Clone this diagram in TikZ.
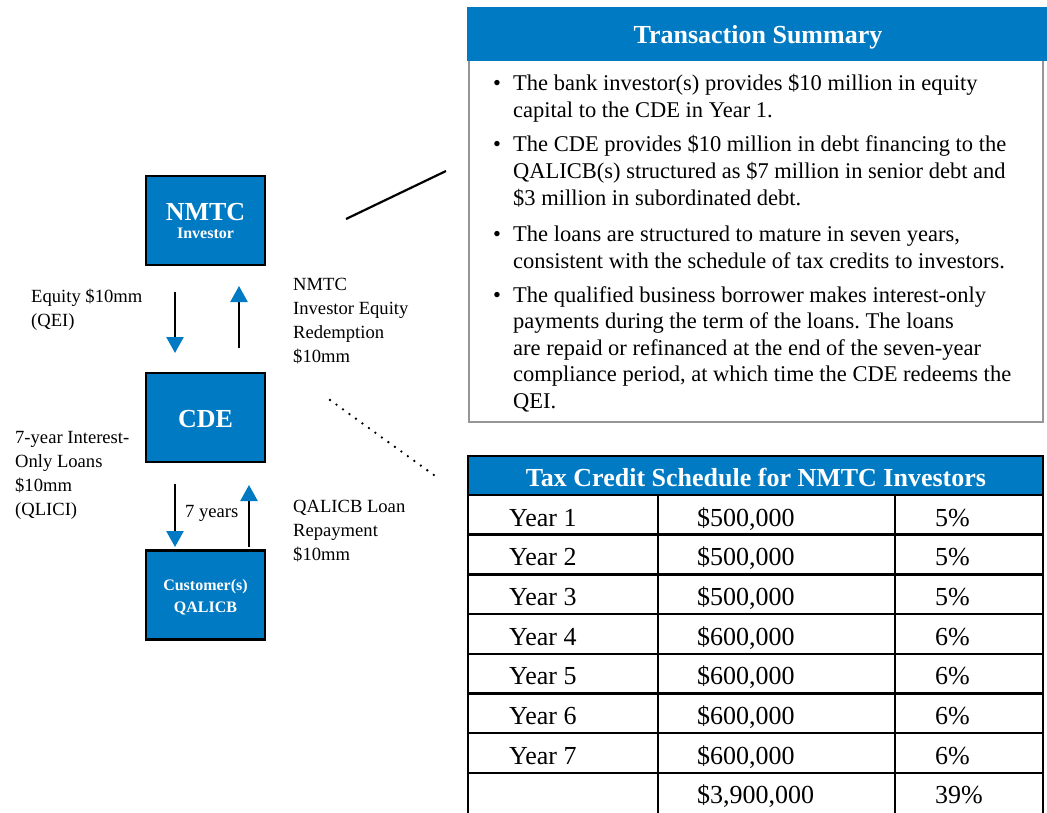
\documentclass[tikz,border=0pt]{standalone}
\usepackage{fontspec}
\setmainfont{Liberation Serif}
\usepackage{xcolor}
\usetikzlibrary{arrows.meta,calc,positioning}
\frenchspacing
\definecolor{nmtcblue}{RGB}{0,122,194}
\definecolor{framegray}{RGB}{150,150,150}
\tikzset{%
	entity/.style    = {draw, line width=2.5pt, fill=nmtcblue, minimum width=119pt, minimum height=89pt, inner sep=0pt}, % Party
	boxtext/.style   = {text=white, font=\bfseries\fontsize{26}{28}\selectfont, anchor=base, inner sep=0pt},
	boxsub/.style    = {text=white, font=\bfseries\fontsize{16}{18}\selectfont, anchor=base, inner sep=0pt},
	flow/.style      = {line width=2.5pt, -{Triangle[color=nmtcblue, length=16pt, width=17pt]}}, % Money flow
	flowtext/.style  = {font=\fontsize{18.6}{24}\selectfont, align=left, anchor=base west, inner sep=0pt}, % anchored at last line
	headtext/.style  = {text=white, font=\bfseries\fontsize{26}{28}\selectfont, anchor=base, inner sep=0pt},
	bullettext/.style= {font=\fontsize{22.5}{26.6}\selectfont, align=left, anchor=base west, inner sep=0pt},
	celltext/.style  = {font=\fontsize{26}{28}\selectfont, anchor=base west, inner sep=0pt},
	gridline/.style  = {line width=2.5pt},
}

\begin{document}
\begin{tikzpicture}[x=1pt, y=-1pt, node distance=197pt]
	\useasboundingbox (0,0) rectangle (1047,813);
	% flow of funds
	\node[entity] (nmtc) at (205.5,220.5) {};
	\node[entity, below of=nmtc] (cde) {};
	\node[entity, below of=cde, node distance=177.5pt] (qalicb) {};
	\node[boxtext] (nmtcname) at ([yshift=-0.5pt]nmtc.center) {NMTC};
	\node[boxsub] (nmtcsub) at ([yshift=-18.5pt]nmtc.center) {Investor};
	\node[boxtext] (cdename) at ([yshift=-9.5pt]cde.center) {CDE};
	\node[boxsub] (qalicbname) at ([yshift=5pt]qalicb.center) {Customer(s)};
	\node[boxsub] (qalicbsub) at ([yshift=-17pt]qalicb.center) {QALICB};
	\draw[flow, shorten <=25.75pt, shorten >=18.75pt] ([xshift=-30.5pt]nmtc.south) -- ([xshift=-30.5pt]cde.north);
	\draw[flow, shorten <=23.75pt, shorten >=19.75pt] ([xshift=33.5pt]cde.north) -- ([xshift=33.5pt]nmtc.south);
	\draw[flow, shorten <=20.75pt, shorten >=2.25pt] ([xshift=-30.5pt]cde.south) -- ([xshift=-30.5pt]qalicb.north);
	\draw[flow, shorten <=2.25pt, shorten >=21.75pt] ([xshift=43.5pt]qalicb.north) -- ([xshift=43.5pt]cde.south);
	\node[flowtext] (equity) at (31,326) {Equity \$10mm\\(QEI)};
	\node[flowtext] (redeem) at (293,362) {NMTC\\Investor Equity\\Redemption\\\$10mm};
	\node[flowtext] (loans) at (15,515) {7-year Interest-\\Only Loans\\\$10mm\\(QLICI)};
	\node[flowtext] (repay) at (293,560) {QALICB Loan\\Repayment\\\$10mm};
	\node[flowtext] (term) at (185,517) {7 years};
	% pointers to the panels
	\coordinate (sumfrom) at (346,219);
	\coordinate (sumto) at (446,171);
	\coordinate (taxfrom) at (330,400);
	\coordinate (taxto) at (438,478);
	\draw[line width=2.2pt] (sumfrom) -- (sumto);
	\draw[line width=2.6pt, line cap=round, dash pattern=on 0pt off 8pt] (taxfrom) -- (taxto);
	% transaction summary
	\fill[nmtcblue] (467,7) rectangle (1047,61);
	\draw[framegray, line width=2.5pt] (469,61) -- (469,422) -- (1043,422) -- (1043,61);
	\node[headtext] (sumtitle) at (758,44) {Transaction Summary};
	\foreach \by/\ly/\btext [count=\i] in {91/117.6/{The bank investor(s) provides \$10 million in equity\\capital to the CDE in Year 1.},
		152/205.2/{The CDE provides \$10 million in debt financing to the\\QALICB(s) structured as \$7 million in senior debt and\\\$3 million in subordinated debt.},
		241.5/268.1/{The loans are structured to mature in seven years,\\consistent with the schedule of tax credits to investors.},
		302/408.4/{The qualified business borrower makes interest-only\\payments during the term of the loans. The loans\\are repaid or refinanced at the end of the seven-year\\compliance period, at which time the CDE redeems the\\QEI.}} {
		\node[bullettext] (dot\i) at (493,\by) {\textbullet};
		\node[bullettext] (item\i) at (513,\ly) {\btext};
	}
	% tax credit schedule
	\draw[gridline, fill=nmtcblue] (468,456) rectangle (1043,495);
	\node[headtext] (taxtitle) at (756,486) {Tax Credit Schedule for NMTC Investors};
	\foreach \k in {1,...,7}
		\draw[gridline] (468,{495+39.7*\k}) -- (1043,{495+39.7*\k});
	\foreach \cx in {468,658,895,1043}
		\draw[gridline] (\cx,495) -- (\cx,813);
	\foreach \amt/\pct [count=\i] in {{\$500,000}/5\%, {\$500,000}/5\%, {\$500,000}/5\%, {\$600,000}/6\%, {\$600,000}/6\%, {\$600,000}/6\%, {\$600,000}/6\%} {
		\node[celltext] (year\i) at (509,{486.3+39.7*\i}) {Year \i};
		\node[celltext] (amount\i) at (697,{486.3+39.7*\i}) {\amt};
		\node[celltext] (rate\i) at (935,{486.3+39.7*\i}) {\pct};
	}
	\node[celltext] (amounttotal) at (697,803.9) {\$3,900,000};
	\node[celltext] (ratetotal) at (935,803.9) {39\%};
\end{tikzpicture}
\end{document}
